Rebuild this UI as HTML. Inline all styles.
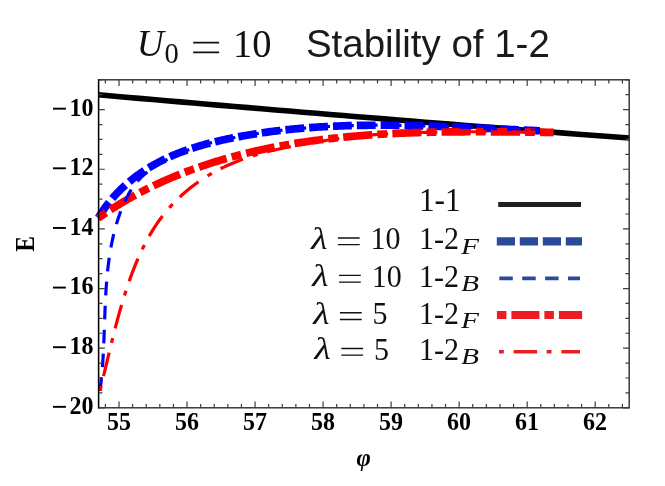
<!DOCTYPE html>
<html><head><meta charset="utf-8"><title>chart</title><style>html,body{margin:0;padding:0;background:#fff}svg{display:block;will-change:transform}</style></head><body>
<svg width="665" height="486" viewBox="0 0 665 486">
<rect width="665" height="486" fill="#fff"/>
<g fill="none" stroke-linecap="butt" stroke-linejoin="round">
<path d="M98.40 94.83 L112.02 96.02 L125.64 97.20 L139.25 98.38 L152.87 99.55 L166.49 100.72 L180.11 101.89 L193.73 103.05 L207.34 104.20 L220.96 105.36 L234.58 106.51 L248.20 107.65 L261.82 108.79 L275.43 109.93 L289.05 111.06 L302.67 112.19 L316.29 113.32 L329.91 114.44 L343.52 115.55 L357.14 116.67 L370.76 117.77 L384.38 118.88 L397.99 119.98 L411.61 121.08 L425.23 122.17 L438.85 123.26 L452.47 124.34 L466.08 125.42 L479.70 126.50 L493.32 127.57 L506.94 128.64 L520.56 129.70 L534.17 130.76 L547.79 131.82 L561.41 132.87 L575.03 133.92 L588.65 134.96 L602.26 136.00 L615.88 137.04 L629.50 138.07" stroke="#000" stroke-width="5.6"/>
<path d="M98.17 218.16 L99.00 216.76 L99.85 215.37 L100.72 213.99 L101.60 212.63 L102.50 211.29 L103.40 209.95 L104.33 208.63 L105.26 207.33 L106.21 206.04 L107.18 204.76 L108.15 203.49 L109.14 202.24 L110.15 201.00 L111.16 199.78 L112.19 198.56 L113.23 197.36 L114.28 196.18 L115.35 195.01 L116.42 193.85 L117.51 192.70 L118.61 191.57 L119.72 190.45 L120.84 189.35 L121.98 188.25 L123.12 187.17 L124.28 186.11 L125.44 185.05 L126.62 184.01 L127.80 182.98 L129.00 181.97 L130.20 180.96 L131.42 179.97 L132.64 179.00 L133.88 178.03 L135.12 177.08 L136.37 176.14 L137.63 175.21 L138.90 174.30 L140.18 173.40 L141.46 172.51 L142.76 171.63 L144.06 170.77 L145.37 169.92 L146.69 169.08 L148.01 168.25 L149.34 167.43 L150.68 166.63 L152.03 165.84 L153.38 165.06 L154.74 164.30 L156.11 163.54 L157.48 162.80 L158.86 162.07 L160.24 161.35 L161.63 160.65 L163.02 159.95 L164.42 159.27 L165.83 158.60 L167.24 157.94 L168.66 157.29 L170.08 156.65 L171.51 156.02 L172.94 155.41 L174.38 154.80 L175.82 154.20 L177.27 153.62 L178.72 153.04 L180.17 152.48 L181.63 151.92 L183.10 151.37 L184.56 150.84 L186.04 150.31 L187.51 149.79 L188.99 149.28 L190.48 148.78 L191.96 148.29 L193.45 147.81 L194.95 147.34 L196.44 146.87 L197.94 146.41 L199.45 145.96 L200.95 145.52 L202.46 145.09 L203.98 144.66 L205.49 144.24 L207.01 143.83 L208.53 143.43 L210.05 143.03 L211.57 142.64 L213.10 142.25 L214.63 141.88 L216.16 141.51 L217.69 141.14 L219.22 140.78 L220.76 140.43 L222.30 140.09 L223.84 139.75 L225.38 139.41 L226.92 139.08 L228.46 138.76 L230.00 138.44 L231.55 138.12 L233.09 137.82 L234.64 137.51 L236.18 137.21 L237.73 136.92 L239.28 136.62 L240.82 136.34 L242.37 136.06 L243.92 135.78 L245.47 135.50 L247.02 135.24 L248.57 134.97 L250.12 134.71 L251.67 134.45 L253.22 134.20 L254.77 133.95 L256.32 133.71 L257.88 133.47 L259.43 133.23 L260.98 133.00 L262.54 132.77 L264.09 132.55 L265.64 132.33 L267.20 132.11 L268.75 131.90 L270.31 131.69 L271.87 131.49 L273.42 131.29 L274.98 131.09 L276.54 130.90 L278.10 130.71 L279.65 130.53 L281.21 130.34 L282.77 130.17 L284.33 129.99 L285.89 129.82 L287.45 129.66 L289.01 129.49 L290.57 129.33 L292.13 129.18 L293.69 129.02 L295.25 128.87 L296.82 128.73 L298.38 128.58 L299.94 128.45 L301.50 128.31 L303.07 128.18 L304.63 128.05 L306.19 127.92 L307.76 127.80 L309.32 127.68 L310.89 127.56 L312.45 127.45 L314.02 127.34 L315.58 127.23 L317.15 127.13 L318.71 127.03 L320.28 126.93 L321.85 126.84 L323.41 126.75 L324.98 126.66 L326.55 126.57 L328.12 126.49 L329.68 126.41 L331.25 126.33 L332.82 126.26 L334.39 126.19 L335.96 126.12 L337.52 126.05 L339.09 125.99 L340.66 125.93 L342.23 125.87 L343.80 125.82 L345.37 125.76 L346.94 125.71 L348.51 125.67 L350.08 125.62 L351.65 125.58 L353.22 125.54 L354.79 125.50 L356.36 125.47 L357.93 125.43 L359.51 125.40 L361.08 125.38 L362.65 125.35 L364.22 125.33 L365.79 125.31 L367.36 125.29 L368.94 125.27 L370.51 125.26 L372.08 125.24 L373.65 125.23 L375.22 125.23 L376.80 125.22 L378.37 125.22 L379.94 125.21 L381.51 125.21 L383.09 125.22 L384.66 125.22 L386.23 125.23 L387.81 125.23 L389.38 125.24 L390.95 125.26 L392.52 125.27 L394.10 125.28 L395.67 125.30 L397.24 125.32 L398.82 125.34 L400.39 125.36 L401.96 125.39 L403.54 125.41 L405.11 125.44 L406.68 125.47 L408.26 125.50 L409.83 125.53 L411.40 125.56 L412.98 125.60 L414.55 125.63 L416.12 125.67 L417.70 125.71 L419.27 125.75 L420.84 125.79 L422.41 125.83 L423.99 125.88 L425.56 125.92 L427.13 125.97 L428.71 126.02 L430.28 126.06 L431.85 126.11 L433.42 126.16 L435.00 126.22 L436.57 126.27 L438.14 126.32 L439.71 126.38 L441.29 126.44 L442.86 126.49 L444.43 126.55 L446.00 126.61 L447.57 126.67 L449.15 126.73 L450.72 126.79 L452.29 126.86 L453.86 126.92 L455.43 126.98 L457.00 127.05 L458.57 127.11 L460.14 127.18 L461.71 127.25 L463.28 127.31 L464.85 127.38 L466.42 127.45 L467.99 127.52 L469.56 127.59 L471.13 127.66 L472.70 127.73 L474.27 127.80 L475.84 127.87 L477.41 127.94 L478.98 128.01 L480.55 128.08 L482.12 128.16 L483.68 128.23 L485.25 128.30 L486.82 128.38 L488.39 128.45 L489.95 128.52 L491.52 128.60 L493.09 128.67 L494.65 128.74 L496.22 128.82 L497.78 128.89 L499.35 128.97 L500.91 129.04 L502.48 129.11 L504.04 129.19 L505.61 129.26 L507.17 129.33 L508.74 129.41 L510.30 129.48 L511.86 129.55 L513.43 129.63 L514.99 129.70 L516.55 129.77 L518.11 129.84 L519.67 129.91 L521.24 129.98 L522.80 130.06 L524.36 130.13 L525.92 130.19 L527.48 130.26 L529.04 130.33 L530.60 130.40 L532.16 130.47 L533.71 130.54 L535.27 130.60 L536.83 130.67 L538.39 130.73 L539.94 130.80" stroke="#0000ff" stroke-width="7.7" stroke-dasharray="18.85 5" stroke-dashoffset="-0.4"/>
<path d="M97.67 218.49 L98.99 217.56 L100.31 216.63 L101.64 215.72 L102.97 214.81 L104.30 213.90 L105.63 213.00 L106.97 212.11 L108.31 211.23 L109.65 210.35 L110.99 209.48 L112.34 208.62 L113.69 207.76 L115.04 206.91 L116.40 206.06 L117.76 205.22 L119.12 204.39 L120.48 203.56 L121.85 202.74 L123.22 201.93 L124.59 201.12 L125.97 200.32 L127.34 199.53 L128.72 198.74 L130.10 197.95 L131.49 197.18 L132.88 196.41 L134.27 195.64 L135.66 194.88 L137.05 194.13 L138.45 193.38 L139.85 192.64 L141.25 191.91 L142.65 191.18 L144.06 190.46 L145.47 189.74 L146.88 189.03 L148.29 188.32 L149.71 187.62 L151.13 186.93 L152.55 186.24 L153.97 185.56 L155.40 184.88 L156.82 184.21 L158.25 183.55 L159.69 182.89 L161.12 182.23 L162.55 181.58 L163.99 180.94 L165.43 180.30 L166.87 179.67 L168.32 179.04 L169.76 178.42 L171.21 177.81 L172.66 177.20 L174.12 176.59 L175.57 175.99 L177.03 175.40 L178.48 174.81 L179.94 174.22 L181.41 173.64 L182.87 173.07 L184.34 172.50 L185.80 171.94 L187.27 171.38 L188.74 170.83 L190.22 170.28 L191.69 169.74 L193.17 169.20 L194.65 168.67 L196.13 168.14 L197.61 167.62 L199.09 167.10 L200.58 166.59 L202.06 166.08 L203.55 165.58 L205.04 165.08 L206.53 164.59 L208.03 164.10 L209.52 163.61 L211.02 163.13 L212.52 162.66 L214.01 162.19 L215.52 161.73 L217.02 161.27 L218.52 160.81 L220.03 160.36 L221.53 159.91 L223.04 159.47 L224.55 159.03 L226.06 158.60 L227.57 158.17 L229.09 157.75 L230.60 157.33 L232.12 156.91 L233.63 156.50 L235.15 156.10 L236.67 155.69 L238.19 155.30 L239.72 154.90 L241.24 154.51 L242.76 154.13 L244.29 153.75 L245.82 153.37 L247.34 153.00 L248.87 152.63 L250.40 152.27 L251.94 151.91 L253.47 151.55 L255.00 151.20 L256.54 150.85 L258.07 150.51 L259.61 150.17 L261.15 149.83 L262.69 149.50 L264.23 149.17 L265.77 148.85 L267.31 148.53 L268.85 148.21 L270.40 147.90 L271.94 147.59 L273.49 147.29 L275.04 146.99 L276.59 146.69 L278.13 146.40 L279.68 146.11 L281.24 145.82 L282.79 145.54 L284.34 145.26 L285.89 144.98 L287.45 144.71 L289.00 144.44 L290.56 144.18 L292.12 143.92 L293.67 143.66 L295.23 143.41 L296.79 143.16 L298.35 142.91 L299.91 142.67 L301.48 142.43 L303.04 142.19 L304.60 141.96 L306.17 141.73 L307.73 141.50 L309.30 141.28 L310.86 141.06 L312.43 140.84 L314.00 140.63 L315.57 140.42 L317.13 140.21 L318.70 140.00 L320.27 139.80 L321.85 139.61 L323.42 139.41 L324.99 139.22 L326.56 139.03 L328.14 138.84 L329.71 138.66 L331.28 138.48 L332.86 138.31 L334.43 138.13 L336.01 137.96 L337.59 137.79 L339.16 137.63 L340.74 137.47 L342.32 137.31 L343.90 137.15 L345.48 137.00 L347.06 136.84 L348.64 136.70 L350.22 136.55 L351.80 136.41 L353.38 136.27 L354.96 136.13 L356.54 136.00 L358.13 135.86 L359.71 135.73 L361.29 135.61 L362.88 135.48 L364.46 135.36 L366.04 135.24 L367.63 135.12 L369.21 135.01 L370.80 134.90 L372.38 134.79 L373.97 134.68 L375.56 134.57 L377.14 134.47 L378.73 134.37 L380.32 134.27 L381.90 134.18 L383.49 134.08 L385.08 133.99 L386.66 133.90 L388.25 133.81 L389.84 133.73 L391.43 133.65 L393.02 133.57 L394.60 133.49 L396.19 133.41 L397.78 133.34 L399.37 133.26 L400.96 133.19 L402.55 133.13 L404.13 133.06 L405.72 133.00 L407.31 132.93 L408.90 132.87 L410.49 132.81 L412.08 132.76 L413.67 132.70 L415.26 132.65 L416.85 132.60 L418.43 132.55 L420.02 132.50 L421.61 132.45 L423.20 132.41 L424.79 132.37 L426.38 132.32 L427.97 132.29 L429.55 132.25 L431.14 132.21 L432.73 132.18 L434.32 132.14 L435.91 132.11 L437.49 132.08 L439.08 132.05 L440.67 132.03 L442.25 132.00 L443.84 131.98 L445.43 131.95 L447.01 131.93 L448.60 131.91 L450.18 131.89 L451.77 131.87 L453.36 131.86 L454.94 131.84 L456.52 131.83 L458.11 131.82 L459.69 131.80 L461.28 131.79 L462.86 131.79 L464.44 131.78 L466.03 131.77 L467.61 131.76 L469.19 131.76 L470.77 131.76 L472.35 131.75 L473.93 131.75 L475.51 131.75 L477.09 131.75 L478.67 131.75 L480.25 131.75 L481.83 131.76 L483.41 131.76 L484.98 131.77 L486.56 131.77 L488.14 131.78 L489.71 131.78 L491.29 131.79 L492.86 131.80 L494.44 131.81 L496.01 131.82 L497.58 131.83 L499.15 131.84 L500.73 131.85 L502.30 131.87 L503.87 131.88 L505.44 131.89 L507.01 131.91 L508.57 131.92 L510.14 131.94 L511.71 131.95 L513.28 131.97 L514.84 131.98 L516.41 132.00 L517.97 132.02 L519.53 132.04 L521.10 132.05 L522.66 132.07 L524.22 132.09 L525.78 132.11 L527.34 132.13 L528.90 132.15 L530.46 132.17 L532.01 132.19 L533.57 132.21 L535.12 132.23 L536.68 132.25 L538.23 132.27 L539.79 132.29 L541.34 132.31 L542.89 132.33 L544.44 132.35 L545.99 132.37 L547.54 132.39 L549.08 132.41 L550.63 132.43 L552.18 132.45 L553.72 132.47" stroke="#ff0000" stroke-width="7.7" stroke-dasharray="9.8 5.2 29.05 5.2" stroke-dashoffset="-0.4"/>
<path d="M99.88 390.79 L100.19 388.53 L100.49 386.26 L100.77 383.98 L101.04 381.70 L101.29 379.41 L101.53 377.12 L101.75 374.83 L101.97 372.53 L102.17 370.22 L102.35 367.91 L102.53 365.60 L102.70 363.28 L102.85 360.96 L103.00 358.63 L103.14 356.31 L103.27 353.97 L103.40 351.64 L103.51 349.30 L103.62 346.96 L103.73 344.62 L103.83 342.27 L103.93 339.93 L104.02 337.58 L104.11 335.23 L104.19 332.87 L104.28 330.52 L104.36 328.16 L104.44 325.81 L104.53 323.45 L104.61 321.09 L104.69 318.73 L104.78 316.37 L104.87 314.01 L104.96 311.65 L105.05 309.29 L105.15 306.93 L105.25 304.58 L105.36 302.22 L105.48 299.86 L105.60 297.51 L105.72 295.15 L105.86 292.80 L106.01 290.45 L106.16 288.10 L106.32 285.75 L106.49 283.40 L106.68 281.06 L106.87 278.72 L107.08 276.38 L107.30 274.04 L107.53 271.71 L107.78 269.38 L108.04 267.05 L108.32 264.73 L108.61 262.41 L108.92 260.10 L109.24 257.79 L109.58 255.48 L109.94 253.18 L110.32 250.88 L110.72 248.59 L111.14 246.30 L111.58 244.02 L112.04 241.74 L112.52 239.47 L113.02 237.20 L113.55 234.94 L114.10 232.69 L114.67 230.44 L115.27 228.20 L115.90 225.96 L116.55 223.74 L117.22 221.52 L117.93 219.30 L118.66 217.09 L119.42 214.90 L120.20 212.70 L121.02 210.52 L121.87 208.35 L122.75 206.18 L123.67 204.04 L124.63 201.91 L125.62 199.80 L126.66 197.72 L127.74 195.66 L128.87 193.63 L130.04 191.63 L131.27 189.67 L132.55 187.75 L133.88 185.86 L135.27 184.02 L136.72 182.23 L138.23 180.49 L139.80 178.80 L141.44 177.15 L143.13 175.56 L144.88 174.02 L146.68 172.52 L148.52 171.07 L150.41 169.67 L152.34 168.30 L154.31 166.98 L156.31 165.69 L158.34 164.44 L160.40 163.23 L162.48 162.05 L164.58 160.90 L166.69 159.79 L168.82 158.71 L170.96 157.65 L173.10 156.62 L175.25 155.61 L177.40 154.63 L179.54 153.67 L181.67 152.73 L183.79 151.81 L185.90 150.91 L187.99 150.02 L190.05 149.15 L191.96 148.29 L193.45 147.81 L194.95 147.34 L196.44 146.87 L197.94 146.41 L199.45 145.96 L200.95 145.52 L202.46 145.09 L203.98 144.66 L205.49 144.24 L207.01 143.83 L208.53 143.43 L210.05 143.03 L211.57 142.64 L213.10 142.25 L214.63 141.88 L216.16 141.51 L217.69 141.14 L219.22 140.78 L220.76 140.43 L222.30 140.09 L223.84 139.75 L225.38 139.41 L226.92 139.08 L228.46 138.76 L230.00 138.44 L231.55 138.12 L233.09 137.82 L234.64 137.51 L236.18 137.21 L237.73 136.92 L239.28 136.62 L240.82 136.34 L242.37 136.06 L243.92 135.78 L245.47 135.50 L247.02 135.24 L248.57 134.97 L250.12 134.71 L251.67 134.45 L253.22 134.20 L254.77 133.95 L256.32 133.71 L257.88 133.47 L259.43 133.23 L260.98 133.00 L262.54 132.77 L264.09 132.55 L265.64 132.33 L267.20 132.11 L268.75 131.90 L270.31 131.69 L271.87 131.49 L273.42 131.29 L274.98 131.09 L276.54 130.90 L278.10 130.71 L279.65 130.53 L281.21 130.34 L282.77 130.17 L284.33 129.99 L285.89 129.82 L287.45 129.66 L289.01 129.49 L290.57 129.33 L292.13 129.18 L293.69 129.02 L295.25 128.87 L296.82 128.73 L298.38 128.58 L299.94 128.45 L301.50 128.31 L303.07 128.18 L304.63 128.05 L306.19 127.92 L307.76 127.80 L309.32 127.68 L310.89 127.56 L312.45 127.45 L314.02 127.34 L315.58 127.23 L317.15 127.13 L318.71 127.03 L320.28 126.93 L321.85 126.84 L323.41 126.75 L324.98 126.66 L326.55 126.57 L328.12 126.49 L329.68 126.41 L331.25 126.33 L332.82 126.26 L334.39 126.19 L335.96 126.12 L337.52 126.05 L339.09 125.99 L340.66 125.93 L342.23 125.87 L343.80 125.82 L345.37 125.76 L346.94 125.71 L348.51 125.67 L350.08 125.62 L351.65 125.58 L353.22 125.54 L354.79 125.50 L356.36 125.47 L357.93 125.43 L359.51 125.40 L361.08 125.38 L362.65 125.35 L364.22 125.33 L365.79 125.31 L367.36 125.29 L368.94 125.27 L370.51 125.26 L372.08 125.24 L373.65 125.23 L375.22 125.23 L376.80 125.22 L378.37 125.22 L379.94 125.21 L381.51 125.21 L383.09 125.22 L384.66 125.22 L386.23 125.23 L387.81 125.23 L389.38 125.24 L390.95 125.26 L392.52 125.27 L394.10 125.28 L395.67 125.30 L397.24 125.32 L398.82 125.34 L400.39 125.36 L401.96 125.39 L403.54 125.41 L405.11 125.44 L406.68 125.47 L408.26 125.50 L409.83 125.53 L411.40 125.56 L412.98 125.60 L414.55 125.63 L416.12 125.67 L417.70 125.71 L419.27 125.75 L420.84 125.79 L422.41 125.83 L423.99 125.88 L425.56 125.92 L427.13 125.97 L428.71 126.02 L430.28 126.06 L431.85 126.11 L433.42 126.16 L435.00 126.22 L436.57 126.27 L438.14 126.32 L439.71 126.38 L441.29 126.44 L442.86 126.49 L444.43 126.55 L446.00 126.61 L447.57 126.67 L449.15 126.73 L450.72 126.79 L452.29 126.86 L453.86 126.92 L455.43 126.98 L457.00 127.05 L458.57 127.11 L460.14 127.18 L461.71 127.25 L463.28 127.31 L464.85 127.38 L466.42 127.45 L467.99 127.52 L469.56 127.59 L471.13 127.66 L472.70 127.73 L474.27 127.80 L475.84 127.87 L477.41 127.94 L478.98 128.01 L480.55 128.08 L482.12 128.16 L483.68 128.23 L485.25 128.30 L486.82 128.38 L488.39 128.45 L489.95 128.52 L491.52 128.60 L493.09 128.67 L494.65 128.74 L496.22 128.82 L497.78 128.89 L499.35 128.97 L500.91 129.04 L502.48 129.11 L504.04 129.19 L505.61 129.26 L507.17 129.33 L508.74 129.41 L510.30 129.48 L511.86 129.55 L513.43 129.63 L514.99 129.70 L516.55 129.77 L518.11 129.84 L519.67 129.91 L521.24 129.98 L522.80 130.06 L524.36 130.13 L525.92 130.19 L527.48 130.26 L529.04 130.33 L530.60 130.40 L532.16 130.47 L533.71 130.54 L535.27 130.60 L536.83 130.67 L538.39 130.73 L539.94 130.80" stroke="#0000ff" stroke-width="3.2" stroke-dasharray="13.6 10.20 13.6 10.20 13.6 10.45 13.6 10.45 13.6 10.45 13.6 10.45 13.6 10.45 13.6 10.45 13.6 10.40 13.6 10.25 13.6 10.25 13.6 10.25 13.6 10.25 13.6 10.25 13.6 10.25 13.6 10.25 13.6 10.25 13.6 10.25 13.6 10.25 13.6 10.25 13.6 10.25 13.6 10.25 13.6 10.25 13.6 10.25 13.6 10.25 13.6 10.25 13.6 10.25 13.6 10.25 13.6 10.25 13.6 10.25"/>
<path d="M100.01 390.75 L100.47 388.89 L100.92 387.03 L101.38 385.17 L101.83 383.30 L102.28 381.43 L102.73 379.57 L103.17 377.70 L103.62 375.83 L104.07 373.96 L104.51 372.09 L104.96 370.21 L105.40 368.34 L105.84 366.47 L106.29 364.59 L106.73 362.72 L107.18 360.84 L107.62 358.97 L108.07 357.09 L108.52 355.21 L108.97 353.33 L109.42 351.45 L109.87 349.58 L110.33 347.70 L110.78 345.82 L111.24 343.94 L111.70 342.06 L112.17 340.18 L112.64 338.30 L113.10 336.42 L113.58 334.54 L114.05 332.66 L114.53 330.78 L115.02 328.90 L115.51 327.02 L116.00 325.14 L116.49 323.26 L116.99 321.38 L117.50 319.50 L118.01 317.62 L118.53 315.74 L119.05 313.87 L119.57 311.99 L120.11 310.11 L120.64 308.24 L121.19 306.36 L121.74 304.49 L122.29 302.62 L122.86 300.74 L123.43 298.87 L124.00 297.00 L124.59 295.13 L125.18 293.26 L125.78 291.39 L126.39 289.53 L127.00 287.66 L127.62 285.80 L128.26 283.94 L128.90 282.08 L129.55 280.22 L130.21 278.37 L130.87 276.52 L131.55 274.67 L132.24 272.83 L132.94 270.99 L133.65 269.16 L134.37 267.33 L135.10 265.51 L135.84 263.69 L136.59 261.88 L137.36 260.08 L138.14 258.28 L138.93 256.49 L139.73 254.71 L140.54 252.93 L141.37 251.16 L142.21 249.40 L143.07 247.65 L143.94 245.91 L144.82 244.17 L145.72 242.45 L146.63 240.74 L147.55 239.03 L148.49 237.34 L149.45 235.65 L150.42 233.98 L151.41 232.32 L152.41 230.67 L153.43 229.03 L154.47 227.41 L155.52 225.80 L156.59 224.20 L157.68 222.61 L158.79 221.04 L159.91 219.48 L161.05 217.93 L162.21 216.40 L163.38 214.89 L164.58 213.38 L165.79 211.90 L167.03 210.43 L168.27 208.97 L169.54 207.53 L170.82 206.11 L172.13 204.70 L173.44 203.30 L174.78 201.92 L176.13 200.56 L177.49 199.21 L178.88 197.88 L180.28 196.57 L181.69 195.27 L183.12 193.98 L184.56 192.72 L186.02 191.47 L187.50 190.23 L188.99 189.02 L190.49 187.81 L192.01 186.63 L193.54 185.46 L195.09 184.31 L196.64 183.18 L198.22 182.06 L199.80 180.96 L201.40 179.88 L203.01 178.82 L204.63 177.77 L206.27 176.74 L207.92 175.73 L209.57 174.73 L211.25 173.75 L212.93 172.80 L214.62 171.86 L216.33 170.93 L218.04 170.03 L219.77 169.14 L221.50 168.27 L223.25 167.42 L225.01 166.59 L226.77 165.78 L228.55 164.98 L230.33 164.20 L232.13 163.44 L233.93 162.70 L235.74 161.97 L237.56 161.25 L239.38 160.55 L241.21 159.87 L243.06 159.21 L244.90 158.55 L246.76 157.92 L248.62 157.29 L250.48 156.68 L252.35 156.09 L254.23 155.50 L256.11 154.93 L258.00 154.38 L259.89 153.83 L261.78 153.30 L263.68 152.78 L265.59 152.27 L267.49 151.77 L269.40 151.29 L271.32 150.81 L273.23 150.34 L275.15 149.89 L277.07 149.44 L278.99 149.01 L280.91 148.58 L282.84 148.16 L284.76 147.75 L286.69 147.35 L288.62 146.95 L290.54 146.57 L292.47 146.19 L294.39 145.81 L296.32 145.45 L298.24 145.09 L300.16 144.74 L302.08 144.39 L304.00 144.05 L305.92 143.71 L307.83 143.38 L309.74 143.05 L311.65 142.73 L313.56 142.41 L315.46 142.10 L317.36 141.79 L319.25 141.48 L321.14 141.17 L323.02 140.87 L324.90 140.57 L326.78 140.27 L328.65 139.97 L330.51 139.68 L332.36 139.38 L334.21 139.09 L336.06 138.80 L337.89 138.50 L339.72 138.21 L340.74 137.47 L342.32 137.31 L343.90 137.15 L345.48 137.00 L347.06 136.84 L348.64 136.70 L350.22 136.55 L351.80 136.41 L353.38 136.27 L354.96 136.13 L356.54 136.00 L358.13 135.86 L359.71 135.73 L361.29 135.61 L362.88 135.48 L364.46 135.36 L366.04 135.24 L367.63 135.12 L369.21 135.01 L370.80 134.90 L372.38 134.79 L373.97 134.68 L375.56 134.57 L377.14 134.47 L378.73 134.37 L380.32 134.27 L381.90 134.18 L383.49 134.08 L385.08 133.99 L386.66 133.90 L388.25 133.81 L389.84 133.73 L391.43 133.65 L393.02 133.57 L394.60 133.49 L396.19 133.41 L397.78 133.34 L399.37 133.26 L400.96 133.19 L402.55 133.13 L404.13 133.06 L405.72 133.00 L407.31 132.93 L408.90 132.87 L410.49 132.81 L412.08 132.76 L413.67 132.70 L415.26 132.65 L416.85 132.60 L418.43 132.55 L420.02 132.50 L421.61 132.45 L423.20 132.41 L424.79 132.37 L426.38 132.32 L427.97 132.29 L429.55 132.25 L431.14 132.21 L432.73 132.18 L434.32 132.14 L435.91 132.11 L437.49 132.08 L439.08 132.05 L440.67 132.03 L442.25 132.00 L443.84 131.98 L445.43 131.95 L447.01 131.93 L448.60 131.91 L450.18 131.89 L451.77 131.87 L453.36 131.86 L454.94 131.84 L456.52 131.83 L458.11 131.82 L459.69 131.80 L461.28 131.79 L462.86 131.79 L464.44 131.78 L466.03 131.77 L467.61 131.76 L469.19 131.76 L470.77 131.76 L472.35 131.75 L473.93 131.75 L475.51 131.75 L477.09 131.75 L478.67 131.75 L480.25 131.75 L481.83 131.76 L483.41 131.76 L484.98 131.77 L486.56 131.77 L488.14 131.78 L489.71 131.78 L491.29 131.79 L492.86 131.80 L494.44 131.81 L496.01 131.82 L497.58 131.83 L499.15 131.84 L500.73 131.85 L502.30 131.87 L503.87 131.88 L505.44 131.89 L507.01 131.91 L508.57 131.92 L510.14 131.94 L511.71 131.95 L513.28 131.97 L514.84 131.98 L516.41 132.00 L517.97 132.02 L519.53 132.04 L521.10 132.05 L522.66 132.07 L524.22 132.09 L525.78 132.11 L527.34 132.13 L528.90 132.15 L530.46 132.17 L532.01 132.19 L533.57 132.21 L535.12 132.23 L536.68 132.25 L538.23 132.27 L539.79 132.29 L541.34 132.31 L542.89 132.33 L544.44 132.35 L545.99 132.37 L547.54 132.39 L549.08 132.41 L550.63 132.43 L552.18 132.45 L553.72 132.47" stroke="#ff0000" stroke-width="3.2" stroke-dasharray="5 10 24.2 10.00 5 10 24.2 10.00 5 10 24.2 10.20 5 10 24.2 10.60 5 10 24.2 10.70 5 10 24.2 10.50 5 10 24.2 10.00 5 10 24.2 10.00 5 10 24.2 10.00 5 10 24.2 10.00 5 10 24.2 10.00 5 10 24.2 10.00 5 10 24.2 10.00 5 10 24.2 10.00"/>
</g>
<g stroke="#3c3c3c" stroke-width="1.2" fill="none">
<rect x="98.60" y="79.80" width="530.60" height="328.00" stroke="#2c2c2c" stroke-width="1.4"/>
<path d="M98.55 79.10 V408.50" stroke="#000" stroke-width="1.25"/>
<path d="M105.40 407.80 v-3.80 M105.40 79.80 v3.80 M119.01 407.80 v-6.20 M119.01 79.80 v6.20 M132.61 407.80 v-3.80 M132.61 79.80 v3.80 M146.22 407.80 v-3.80 M146.22 79.80 v3.80 M159.82 407.80 v-3.80 M159.82 79.80 v3.80 M173.43 407.80 v-3.80 M173.43 79.80 v3.80 M187.03 407.80 v-6.20 M187.03 79.80 v6.20 M200.64 407.80 v-3.80 M200.64 79.80 v3.80 M214.24 407.80 v-3.80 M214.24 79.80 v3.80 M227.85 407.80 v-3.80 M227.85 79.80 v3.80 M241.45 407.80 v-3.80 M241.45 79.80 v3.80 M255.06 407.80 v-6.20 M255.06 79.80 v6.20 M268.66 407.80 v-3.80 M268.66 79.80 v3.80 M282.27 407.80 v-3.80 M282.27 79.80 v3.80 M295.87 407.80 v-3.80 M295.87 79.80 v3.80 M309.48 407.80 v-3.80 M309.48 79.80 v3.80 M323.08 407.80 v-6.20 M323.08 79.80 v6.20 M336.69 407.80 v-3.80 M336.69 79.80 v3.80 M350.29 407.80 v-3.80 M350.29 79.80 v3.80 M363.90 407.80 v-3.80 M363.90 79.80 v3.80 M377.51 407.80 v-3.80 M377.51 79.80 v3.80 M391.11 407.80 v-6.20 M391.11 79.80 v6.20 M404.72 407.80 v-3.80 M404.72 79.80 v3.80 M418.32 407.80 v-3.80 M418.32 79.80 v3.80 M431.93 407.80 v-3.80 M431.93 79.80 v3.80 M445.53 407.80 v-3.80 M445.53 79.80 v3.80 M459.14 407.80 v-6.20 M459.14 79.80 v6.20 M472.74 407.80 v-3.80 M472.74 79.80 v3.80 M486.35 407.80 v-3.80 M486.35 79.80 v3.80 M499.95 407.80 v-3.80 M499.95 79.80 v3.80 M513.56 407.80 v-3.80 M513.56 79.80 v3.80 M527.16 407.80 v-6.20 M527.16 79.80 v6.20 M540.77 407.80 v-3.80 M540.77 79.80 v3.80 M554.37 407.80 v-3.80 M554.37 79.80 v3.80 M567.98 407.80 v-3.80 M567.98 79.80 v3.80 M581.58 407.80 v-3.80 M581.58 79.80 v3.80 M595.19 407.80 v-6.20 M595.19 79.80 v6.20 M608.79 407.80 v-3.80 M608.79 79.80 v3.80 M622.40 407.80 v-3.80 M622.40 79.80 v3.80 M98.60 407.80 h6.20 M629.20 407.80 h-6.20 M98.60 392.89 h3.80 M629.20 392.89 h-3.80 M98.60 377.98 h3.80 M629.20 377.98 h-3.80 M98.60 363.07 h3.80 M629.20 363.07 h-3.80 M98.60 348.16 h6.20 M629.20 348.16 h-6.20 M98.60 333.25 h3.80 M629.20 333.25 h-3.80 M98.60 318.35 h3.80 M629.20 318.35 h-3.80 M98.60 303.44 h3.80 M629.20 303.44 h-3.80 M98.60 288.53 h6.20 M629.20 288.53 h-6.20 M98.60 273.62 h3.80 M629.20 273.62 h-3.80 M98.60 258.71 h3.80 M629.20 258.71 h-3.80 M98.60 243.80 h3.80 M629.20 243.80 h-3.80 M98.60 228.89 h6.20 M629.20 228.89 h-6.20 M98.60 213.98 h3.80 M629.20 213.98 h-3.80 M98.60 199.07 h3.80 M629.20 199.07 h-3.80 M98.60 184.16 h3.80 M629.20 184.16 h-3.80 M98.60 169.25 h6.20 M629.20 169.25 h-6.20 M98.60 154.35 h3.80 M629.20 154.35 h-3.80 M98.60 139.44 h3.80 M629.20 139.44 h-3.80 M98.60 124.53 h3.80 M629.20 124.53 h-3.80 M98.60 109.62 h6.20 M629.20 109.62 h-6.20 M98.60 94.71 h3.80 M629.20 94.71 h-3.80 M98.60 79.80 h3.80 M629.20 79.80 h-3.80"/>
</g>
<g font-family="'Liberation Serif', serif" font-weight="bold" font-size="24px" fill="#000">
<text transform="translate(118.91,430.2) scale(1,1.05)" text-anchor="middle">55</text>
<text transform="translate(186.93,430.2) scale(1,1.05)" text-anchor="middle">56</text>
<text transform="translate(254.96,430.2) scale(1,1.05)" text-anchor="middle">57</text>
<text transform="translate(322.98,430.2) scale(1,1.05)" text-anchor="middle">58</text>
<text transform="translate(391.01,430.2) scale(1,1.05)" text-anchor="middle">59</text>
<text transform="translate(459.04,430.2) scale(1,1.05)" text-anchor="middle">60</text>
<text transform="translate(527.06,430.2) scale(1,1.05)" text-anchor="middle">61</text>
<text transform="translate(595.09,430.2) scale(1,1.05)" text-anchor="middle">62</text>
<text transform="translate(93.4,413.70) scale(1,1.05)" text-anchor="end">20</text>
<rect x="53" y="405.90" width="12.9" height="1.9"/>
<text transform="translate(93.4,354.06) scale(1,1.05)" text-anchor="end">18</text>
<rect x="53" y="346.26" width="12.9" height="1.9"/>
<text transform="translate(93.4,294.43) scale(1,1.05)" text-anchor="end">16</text>
<rect x="53" y="286.63" width="12.9" height="1.9"/>
<text transform="translate(93.4,234.79) scale(1,1.05)" text-anchor="end">14</text>
<rect x="53" y="226.99" width="12.9" height="1.9"/>
<text transform="translate(93.4,175.15) scale(1,1.05)" text-anchor="end">12</text>
<rect x="53" y="167.35" width="12.9" height="1.9"/>
<text transform="translate(93.4,115.52) scale(1,1.05)" text-anchor="end">10</text>
<rect x="53" y="107.72" width="12.9" height="1.9"/>
</g>
<text transform="translate(33.6,244) rotate(-90) scale(1,1.13)" text-anchor="middle" font-family="'Liberation Serif', serif" font-weight="bold" font-size="23.5px">E</text>
<text x="363.6" y="465.5" text-anchor="middle" font-family="'Liberation Serif', serif" font-weight="bold" font-style="italic" font-size="24.5px">φ</text>
<g font-family="'Liberation Serif', serif" fill="#111">
<text x="136.8" y="56.4" font-size="38.5px" font-style="italic" textLength="27" lengthAdjust="spacingAndGlyphs">U</text>
<text x="164.5" y="62.6" font-size="28.5px">0</text>
<path d="M193.20 42.60 H219.10 M193.20 52.30 H219.10" stroke="#111" stroke-width="1.70" fill="none"/>
<text transform="translate(233,56.6) scale(1,1.035)" font-size="38.5px">10</text>
</g>
<text x="305.9" y="56.9" font-family="'Liberation Sans', sans-serif" font-size="38.5px" fill="#1a1a1a">Stability of 1-2</text>
<g font-family="'Liberation Serif', serif" fill="#111" font-size="30px">
<text transform="translate(418.9,211.0) scale(1.045,1.11)">1-1</text>
<text x="311.20" y="248.9" font-style="italic" font-size="31px" textLength="16.2" lengthAdjust="spacingAndGlyphs">λ</text>
<path d="M337.90 237.95 H359.70 M337.90 244.65 H359.70" stroke="#111" stroke-width="1.35" fill="none"/>
<text transform="translate(370.60,249.1) scale(1,1.06)">10</text>
<text transform="translate(419,249.1) scale(1,1.06)">1-2</text>
<text x="461" y="253.6" font-style="italic" font-size="22.5px" textLength="18" lengthAdjust="spacingAndGlyphs">F</text>
<text x="312.30" y="286.3" font-style="italic" font-size="31px" textLength="16.2" lengthAdjust="spacingAndGlyphs">λ</text>
<path d="M339.00 275.35 H360.80 M339.00 282.05 H360.80" stroke="#111" stroke-width="1.35" fill="none"/>
<text transform="translate(371.70,286.5) scale(1,1.06)">10</text>
<text transform="translate(419,286.5) scale(1,1.06)">1-2</text>
<text x="461" y="291.0" font-style="italic" font-size="22.5px" textLength="18" lengthAdjust="spacingAndGlyphs">B</text>
<text x="313.20" y="323.7" font-style="italic" font-size="31px" textLength="16.2" lengthAdjust="spacingAndGlyphs">λ</text>
<path d="M339.90 312.75 H361.70 M339.90 319.45 H361.70" stroke="#111" stroke-width="1.35" fill="none"/>
<text transform="translate(372.60,323.9) scale(1,1.06)">5</text>
<text transform="translate(419,323.9) scale(1,1.06)">1-2</text>
<text x="461" y="328.4" font-style="italic" font-size="22.5px" textLength="18" lengthAdjust="spacingAndGlyphs">F</text>
<text x="314.60" y="359.4" font-style="italic" font-size="31px" textLength="16.2" lengthAdjust="spacingAndGlyphs">λ</text>
<path d="M341.30 348.45 H363.10 M341.30 355.15 H363.10" stroke="#111" stroke-width="1.35" fill="none"/>
<text transform="translate(374.00,359.6) scale(1,1.06)">5</text>
<text transform="translate(419,359.6) scale(1,1.06)">1-2</text>
<text x="461" y="364.1" font-style="italic" font-size="22.5px" textLength="18" lengthAdjust="spacingAndGlyphs">B</text>
</g>
<g fill="none">
<path d="M498.2 204.5 H581" stroke="#231f20" stroke-width="5"/>
<path d="M496.8 241.4 H582" stroke="#2a4b9b" stroke-width="8.2" stroke-dasharray="18.2 4.8"/>
<path d="M499.3 278.3 H580" stroke="#2a4b9b" stroke-width="3.7" stroke-dasharray="13.5 9.4"/>
<path d="M496.9 315 H582.1" stroke="#ed1c24" stroke-width="8.2" stroke-dasharray="9.5 5 28 5"/>
<path d="M499 351.7 H580" stroke="#ed1c24" stroke-width="3.5" stroke-dasharray="4.8 9.9 23.4 9.6"/>
</g>
</svg>
</body></html>
